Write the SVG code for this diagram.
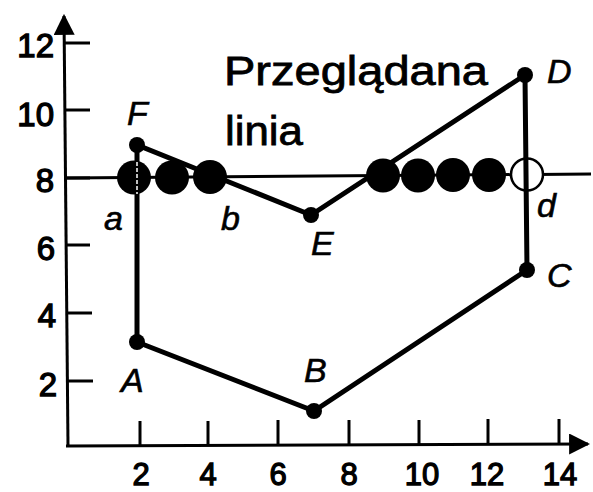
<svg xmlns="http://www.w3.org/2000/svg" width="593" height="492" viewBox="0 0 593 492">
<style>
.ax{stroke:#000;stroke-width:3;fill:none}
.edge{stroke:#000;stroke-width:5;fill:none;stroke-linecap:round}
.num{font-family:"Liberation Sans",Arial,sans-serif;font-size:33px;fill:#000;stroke:#000;stroke-width:1.3}
.numx{font-size:31px}
.pt{font-family:"Liberation Sans",Arial,sans-serif;font-size:34px;font-style:italic;fill:#000;stroke:#000;stroke-width:0.6}
.ttl{font-family:"Liberation Sans",Arial,sans-serif;font-size:41px;fill:#000;stroke:#000;stroke-width:0.8}
.dot{fill:#000}
.px{fill:#000}
.pxo{fill:#fff;stroke:#000;stroke-width:2.5}
</style>
<defs>
<marker id="arr" viewBox="0 0 10 10" refX="9" refY="5" markerWidth="7" markerHeight="7" markerUnits="strokeWidth" orient="auto">
<path d="M0,0 L10,5 L0,10 z" fill="#000"/>
</marker>
</defs>
<rect width="593" height="492" fill="#fff"/>
<g id="axes">
<line class="ax" x1="68" y1="446" x2="64" y2="16" marker-end="url(#arr)"/>
<line class="ax" x1="66" y1="446" x2="588" y2="444" marker-end="url(#arr)"/>
<g class="ax">
<line x1="65" y1="43" x2="90" y2="43"/>
<line x1="65" y1="110" x2="90" y2="110"/>
<line x1="66" y1="178" x2="90" y2="178"/>
<line x1="66" y1="245" x2="90" y2="245"/>
<line x1="67" y1="313" x2="92" y2="313"/>
<line x1="67" y1="381" x2="93" y2="381"/>
<line x1="140" y1="446" x2="140" y2="421"/>
<line x1="208" y1="446" x2="208" y2="421"/>
<line x1="278" y1="445" x2="278" y2="420"/>
<line x1="349" y1="445" x2="349" y2="420"/>
<line x1="419" y1="445" x2="419" y2="420"/>
<line x1="488" y1="444" x2="488" y2="419"/>
<line x1="559" y1="444" x2="559" y2="419"/>
</g>
<g class="num" text-anchor="end">
<text x="54" y="57">12</text>
<text x="54" y="126">10</text>
<text x="54" y="192">8</text>
<text x="55" y="260">6</text>
<text x="56" y="327">4</text>
<text x="57" y="396">2</text>
</g>
<g class="num numx" text-anchor="middle">
<text x="141" y="485">2</text>
<text x="208" y="485">4</text>
<text x="278" y="485">6</text>
<text x="349" y="485">8</text>
<text x="422" y="485">10</text>
<text x="487" y="485">12</text>
<text x="560" y="485">14</text>
</g>
</g>
<g id="scanline">
<line class="ax" x1="66" y1="178" x2="591" y2="174"/>
<circle class="px" cx="134" cy="177.5" r="17"/>
<circle class="px" cx="172" cy="177.5" r="17"/>
<circle class="px" cx="210" cy="177" r="17"/>
<circle class="px" cx="383" cy="175.5" r="17"/>
<circle class="px" cx="418" cy="175.5" r="17"/>
<circle class="px" cx="453" cy="175" r="17"/>
<circle class="px" cx="489" cy="175" r="17"/>
<circle class="pxo" cx="527" cy="174.5" r="16"/>
</g>
<g id="connectors">
<polyline class="edge" points="137,342 314,411 527,270 525,75 311,215 137,145 137,342"/>
<line x1="137" y1="162" x2="137" y2="194" stroke="#fff" stroke-width="1.5" stroke-dasharray="4 2"/>
</g>
<g id="title">
<text class="ttl" x="224" y="85" textLength="264" lengthAdjust="spacingAndGlyphs">Przeglądana</text>
<text class="ttl" x="225" y="145" textLength="78" lengthAdjust="spacingAndGlyphs">linia</text>
</g>
<g id="node-A"><circle class="dot" cx="137" cy="342" r="8"/><text class="pt" x="121" y="392">A</text></g>
<g id="node-B"><circle class="dot" cx="314" cy="411" r="8"/><text class="pt" x="304" y="382">B</text></g>
<g id="node-C"><circle class="dot" cx="527" cy="270" r="8"/><text class="pt" x="547" y="287">C</text></g>
<g id="node-D"><circle class="dot" cx="525" cy="75" r="8"/><text class="pt" x="547" y="83">D</text></g>
<g id="node-E"><circle class="dot" cx="311" cy="215" r="8"/><text class="pt" x="311" y="255">E</text></g>
<g id="node-F"><circle class="dot" cx="137" cy="145" r="8"/><text class="pt" x="127" y="125">F</text></g>
<g id="label-a"><text class="pt" x="104" y="230">a</text></g>
<g id="label-b"><text class="pt" x="221" y="230">b</text></g>
<g id="label-d"><text class="pt" x="537" y="217">d</text></g>
</svg>
